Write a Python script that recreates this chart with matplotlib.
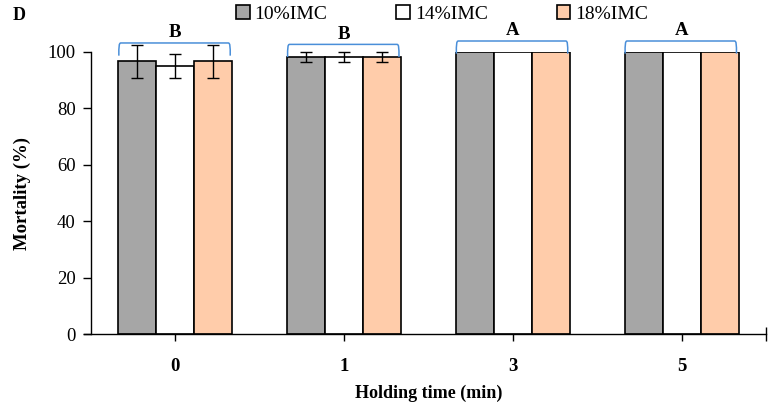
import matplotlib
matplotlib.use("Agg")
import matplotlib.pyplot as plt
import numpy as np
from matplotlib.path import Path
from matplotlib.patches import PathPatch

categories = ["0", "1", "3", "5"]
series_names = ["10%IMC", "14%IMC", "18%IMC"]
imc10 = [96.7, 98.3, 100, 100]
imc14 = [95.0, 98.3, 100, 100]
imc18 = [96.7, 98.3, 100, 100]
err10 = [5.8, 1.8, 0, 0]
err14 = [4.2, 1.8, 0, 0]
err18 = [5.8, 1.8, 0, 0]
letters = ["B", "B", "A", "A"]

colors = ["#A6A6A6", "#FFFFFF", "#FFCCAA"]
plt.rcParams['font.family'] = ['Liberation Serif', 'DejaVu Serif']

fig = plt.figure(figsize=(7.73, 4.11), dpi=100)
ax = fig.add_axes([91/773, 1-334/411, (766-91)/773, (334-52)/411])

x = np.arange(len(categories))
w = 0.225
offs = [-w, 0, w]
vals = [imc10, imc14, imc18]
errs = [err10, err14, err18]
handles = []
for i in range(3):
    b = ax.bar(x + offs[i], vals[i], width=w, color=colors[i], edgecolor="black",
               linewidth=1.2, label=series_names[i], zorder=2)
    handles.append(b)
    e = np.array(errs[i])
    m = e > 0
    ax.errorbar((x + offs[i])[m], np.array(vals[i])[m], yerr=e[m], fmt="none",
                ecolor="black", elinewidth=1, capsize=4, capthick=1, zorder=3, clip_on=False)

# brackets and letters
br_y = [103.2, 102.7, 103.9, 103.9]
for xi, by, lt in zip(x, br_y, letters):
    x0, x1 = xi - 0.335, xi + 0.325
    d = 0.012
    h = 4.5
    verts = [(x0, by - h), (x0, by - 0.3*h), (x0, by), (x0 + d, by),
             (x1 - d, by), (x1, by), (x1, by - 0.3*h), (x1, by - h)]
    codes = [Path.MOVETO, Path.CURVE4, Path.CURVE4, Path.CURVE4,
             Path.LINETO, Path.CURVE4, Path.CURVE4, Path.CURVE4]
    ax.add_patch(PathPatch(Path(verts, codes), fill=False, edgecolor="#4A8FD9",
                           linewidth=1.1, clip_on=False, zorder=4))
    ax.text(xi, by + 0.6, lt, ha="center", va="bottom", fontsize=13.5,
            fontweight="bold", clip_on=False)

ax.set_xlim(-0.5, 3.5)
ax.set_ylim(0, 100)
ax.set_yticks([0, 20, 40, 60, 80, 100])
ax.set_xticks(list(x) + [3.5])
ax.set_xticklabels(categories + [""], fontweight="bold", fontsize=13.5)
ax.tick_params(axis="x", direction="inout", length=10, width=1, pad=12)
ax.tick_params(axis="y", direction="out", length=6, width=1, labelsize=13.5, pad=5)
for s in ["top", "right"]:
    ax.spines[s].set_visible(False)
for s in ["left", "bottom"]:
    ax.spines[s].set_linewidth(1)
ax.spines["bottom"].set_bounds(-0.54, 3.5)

ax.set_ylabel("Mortality (%)", fontsize=13.5, fontweight="bold", labelpad=12)
ax.set_xlabel("Holding time (min)", fontsize=13, fontweight="bold", labelpad=7)

fig.legend(handles=handles, loc="center left", bbox_to_anchor=(236/773, 1-14/411), ncol=3,
           frameon=False, fontsize=14, handlelength=0.7, handleheight=0.7,
           handletextpad=0.25, columnspacing=3.55, borderpad=0, borderaxespad=0)
fig.text(13/773, 1-15/411, "D", fontsize=13, fontweight="bold", va="center", ha="left")

fig.savefig("out.png", dpi=100)
